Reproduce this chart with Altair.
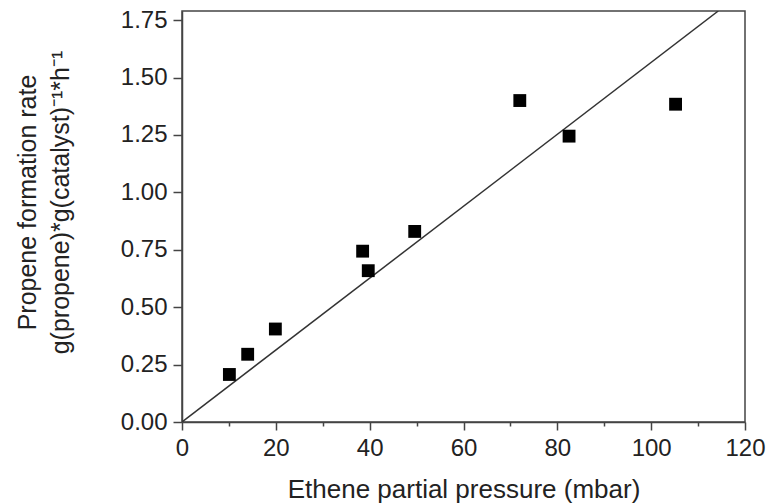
import altair as alt
import pandas as pd

pressure = [10.1, 14.0, 19.9, 38.5, 39.7, 49.6, 72.0, 82.5, 105.2]
rate = [0.207, 0.295, 0.405, 0.744, 0.659, 0.83, 1.40, 1.245, 1.384]
fit_x = [0, 114.3]
fit_y = [0, 1.79]

x_ticks = [0, 10, 20, 30, 40, 50, 60, 70, 80, 90, 100, 110, 120]
y_ticks = [0, 0.125, 0.25, 0.375, 0.5, 0.625, 0.75, 0.875, 1.0, 1.125, 1.25, 1.375, 1.5, 1.625, 1.75]

pts = pd.DataFrame({"x": pressure, "y": rate})
fit = pd.DataFrame({"x": fit_x, "y": fit_y})

FONT = "Liberation Sans"
AX = "#444444"
TXT = "#222222"

xscale = alt.Scale(domain=[0, 120], nice=False, zero=False)
yscale = alt.Scale(domain=[0, 1.79], nice=False, zero=False)

xaxis = alt.Axis(
    values=x_ticks,
    labelExpr="datum.value % 20 == 0 ? datum.label : ''",
    tickSize={"condition": {"test": "datum.value % 20 == 0", "value": 8}, "value": 4},
    labelPadding=6,
    labelFont=FONT, labelFontSize=24, labelColor=TXT,
    title="Ethene partial pressure (mbar)",
    titleFont=FONT, titleFontSize=26, titleFontWeight="normal", titleColor=TXT,
    titleBaseline="alphabetic", titleY=75,
    grid=False, domainColor=AX, tickColor=AX, domainWidth=1.5, tickWidth=1.5,
    labelFlush=False,
)
yaxis = alt.Axis(
    values=y_ticks,
    labelExpr="round(datum.value*100) % 25 == 0 ? format(datum.value, '.2f') : ''",
    tickSize={"condition": {"test": "round(datum.value*100) % 25 == 0", "value": 9}, "value": 4},
    labelPadding=6,
    labelFont=FONT, labelFontSize=24, labelColor=TXT,
    title=["Propene formation rate", "g(propene)*g(catalyst)⁻¹*h⁻¹"],
    titleFont=FONT, titleFontSize=25, titleFontWeight="normal", titleColor=TXT,
    titleAngle=-90, titleBaseline="middle", titleAlign="center",
    titleX=-155, titleY=191, titleLineHeight=33,
    grid=False, domainColor=AX, tickColor=AX, domainWidth=1.5, tickWidth=1.5,
    labelFlush=False,
)

line = alt.Chart(fit).mark_line(color="#333333", strokeWidth=1.5, clip=True).encode(
    x=alt.X("x:Q", scale=xscale, axis=xaxis),
    y=alt.Y("y:Q", scale=yscale, axis=yaxis),
)
points = alt.Chart(pts).mark_square(size=165, color="black", opacity=1).encode(
    x=alt.X("x:Q", scale=xscale),
    y=alt.Y("y:Q", scale=yscale),
)

chart = alt.layer(line, points).properties(
    width=563, height=411,
    autosize=alt.AutoSizeParams(type="none"),
    padding={"left": 182, "top": 11, "right": 28, "bottom": 82},
    background="white",
).configure_view(stroke=AX, strokeWidth=1.5)

chart.save("out.html", embed_options={"renderer": "svg", "actions": False})
